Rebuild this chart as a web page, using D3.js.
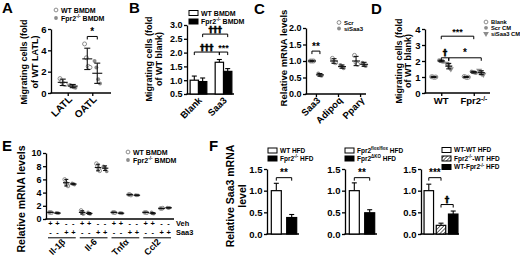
<!DOCTYPE html>
<html><head><meta charset="utf-8">
<script src="https://cdn.jsdelivr.net/npm/d3@7"></script>
<style>
body{margin:0;background:#fff;}
svg{display:block;}
</style></head><body>
<svg id="c" width="520" height="257"></svg>
<script>
// ================= DATA =================
// Panel A
const aCategories = ["LATL", "OATL"];
const aSeries = ["WT  BMDM", "Fpr2^{-/-} BMDM"];
const aWtPoints = [[1.35, 1.05, 0.85, 0.8], [4.6, 3.3, 2.5, 2.4]];
const aKoPoints = [[0.75, 0.65, 0.55, 0.5], [3.0, 2.4, 1.3, 0.9]];
const aWtMean = [1.0, 3.2], aWtErr = [0.3, 1.0];
const aKoMean = [0.65, 1.85], aKoErr = [0.15, 0.95];
const aTicks = [0, 2, 4, 6];
const aSig = ["*"];
// Panel B
const bCategories = ["Blank", "Saa3"];
const bSeries = ["WT  BMDM", "Fpr2^{-/-} BMDM"];
const bWtMean = [1.0, 1.65], bWtErr = [0.15, 0.1];
const bKoMean = [0.95, 1.32], bKoErr = [0.13, 0.1];
const bTicks = [0.5, 1.0, 1.5, 2.0, 2.5, 3.0];
const bSig = ["†††", "†††", "***"];
// Panel C
const cCategories = ["Saa3", "Adipoq", "Pparγ"];
const cSeries = ["Scr", "siSaa3"];
const cScrPoints = [[1.0, 1.0, 1.0], [1.08, 0.97, 0.95], [1.17, 0.95, 0.9]];
const cSiPoints = [[0.62, 0.57, 0.55], [0.88, 0.83, 0.78], [0.95, 0.87, 0.85]];
const cScrMean = [1.0, 1.0, 1.0], cScrErr = [0.02, 0.07, 0.14];
const cSiMean = [0.58, 0.83, 0.9], cSiErr = [0.04, 0.05, 0.06];
const cTicks = [0, 0.5, 1.0, 1.5, 2.0];
const cSig = ["**"];
// Panel D
const dCategories = ["WT", "Fpr2^{-/-}"];
const dSeries = ["Blank", "Scr CM", "siSaa3 CM"];
const dBlankPoints = [[1.02, 1.0, 0.98, 1.0], [1.03, 1.0, 0.97, 0.99]];
const dScrPoints = [[2.05, 2.0, 1.97, 1.95], [1.35, 1.3, 1.28, 1.25]];
const dSiPoints = [[1.85, 1.75, 1.6, 1.5], [1.4, 1.3, 1.2, 1.15]];
const dBlankMean = [1.0, 1.0], dBlankErr = [0.03, 0.03];
const dScrMean = [2.0, 1.3], dScrErr = [0.05, 0.05];
const dSiMean = [1.68, 1.27], dSiErr = [0.17, 0.12];
const dTicks = [0, 1, 2, 3, 4];
const dSig = ["***", "†", "*"];
// Panel E
const eGenes = ["Il-1β", "Il-6", "Tnfα", "Ccl2"];
const eSeries = ["WT  BMDM", "Fpr2^{-/-} BMDM"];
const eRowLabels = ["Veh", "Saa3"];
const eVehRow = ["+", "+", "-", "-"];
const eSaaRow = ["-", "-", "+", "+"];
const eWtVehPoints = [[1.0, 1.0, 0.95], [1.3, 1.0, 0.8], [1.0, 1.0, 0.95], [1.0, 1.0, 0.95]];
const eKoVehPoints = [[0.95, 0.9, 0.88], [1.0, 0.8, 0.75], [0.92, 0.9, 0.85], [1.0, 0.85, 0.8]];
const eWtSaaPoints = [[6.0, 5.5, 5.2, 5.0], [8.4, 8.0, 7.6, 7.3], [3.72, 3.7, 3.62], [1.6, 1.58, 1.65]];
const eKoSaaPoints = [[5.4, 5.3, 5.2], [8.0, 7.8, 7.6, 7.2], [3.62, 3.55, 3.6], [1.72, 1.65, 1.7]];
const eWtVehMean = [1.0, 1.0, 1.0, 1.0], eWtVehErr = [0.04, 0.25, 0.04, 0.04];
const eKoVehMean = [0.9, 0.85, 0.88, 0.88], eKoVehErr = [0.04, 0.13, 0.04, 0.1];
const eWtSaaMean = [5.5, 7.8, 3.68, 1.6], eWtSaaErr = [0.5, 0.5, 0.05, 0.04];
const eKoSaaMean = [5.3, 7.7, 3.6, 1.7], eKoSaaErr = [0.1, 0.35, 0.04, 0.04];
const eTicks = [0, 2, 4, 6, 8, 10];
// Panel F
const f1Groups = ["WT HFD", "Fpr2^{-/-} HFD"];
const f1Mean = [1.0, 0.38], f1Err = [0.17, 0.07];
const f2Groups = ["Fpr2^{flox/flox} HFD", "Fpr2^{ΔKO} HFD"];
const f2Mean = [1.0, 0.49], f2Err = [0.18, 0.07];
const f3Groups = ["WT-WT HFD", "Fpr2^{-/-}-WT HFD", "WT-Fpr2^{-/-} HFD"];
const f3Mean = [1.0, 0.2, 0.46], f3Err = [0.15, 0.05, 0.07];
const fTicks = [0, 0.5, 1.0, 1.5];
const fSig = ["**", "**", "***", "†"];

// ================= HELPERS =================
const FONT = '"Liberation Sans", Arial, Helvetica, sans-serif';
const DAGFONT = '"DejaVu Sans", "Liberation Sans", sans-serif';
const GREY = "#8c8c8c";
const svg = d3.select("#c").attr("font-family", FONT).attr("font-weight", "bold");

const pat = svg.append("defs").append("pattern").attr("id", "hatch")
  .attr("patternUnits", "userSpaceOnUse").attr("width", 2.6).attr("height", 2.6)
  .attr("patternTransform", "rotate(45)");
pat.append("rect").attr("width", 2.6).attr("height", 2.6).attr("fill", "#fff");
pat.append("line").attr("x1", 0).attr("y1", 0).attr("x2", 0).attr("y2", 2.6)
  .attr("stroke", "#000").attr("stroke-width", 1.2);

function rich(sel, str) {
  const parts = str.split(/(\^\{[^}]*\})/).filter(p => p);
  let shifted = false;
  parts.forEach(p => {
    const m = p.match(/^\^\{([^}]*)\}$/);
    if (m) { sel.append("tspan").attr("dy", shifted ? 0 : -2.8).attr("font-size", "0.68em").text(m[1]); shifted = true; }
    else { sel.append("tspan").attr("dy", shifted ? 2.8 : 0).text(p); shifted = false; }
  });
  return sel;
}
function txt(x, y, s, fs, anchor) {
  const t = svg.append("text").attr("x", x).attr("y", y).attr("font-size", fs)
    .attr("text-anchor", anchor || "start").attr("fill", "#000");
  if (s.indexOf("†") >= 0) t.attr("font-family", DAGFONT).attr("stroke", "#000").attr("stroke-width", 0.45);
  return rich(t, s);
}
function letter(s, x, y) { txt(x, y, s, 15); }
function yLabel(lines, xs, cy, fs) {
  lines.forEach((l, i) => {
    const t = svg.append("text").attr("transform", `translate(${xs[i]},${cy}) rotate(-90)`)
      .attr("text-anchor", "middle").attr("font-size", fs).attr("fill", "#000");
    rich(t, l);
  });
}
function styleAxis(g, fs) {
  g.attr("font-family", FONT).attr("font-size", fs).attr("font-weight", "bold");
  g.selectAll("path,line").attr("stroke", "#000").attr("stroke-width", 1.3);
  g.selectAll("text").attr("fill", "#000");
}
function yAxis(scale, x, ticks, fmt, fs) {
  const g = svg.append("g").attr("transform", `translate(${x},0)`)
    .call(d3.axisLeft(scale).tickValues(ticks).tickFormat(fmt).tickSize(3).tickSizeOuter(0).tickPadding(1.5));
  styleAxis(g, fs || 9);
}
function xAxis(x0, x1, y, pscale) {
  svg.append("line").attr("x1", x0 - 0.6).attr("x2", x1).attr("y1", y).attr("y2", y)
    .attr("stroke", "#000").attr("stroke-width", 1.3);
  if (pscale) {
    const g = svg.append("g").attr("transform", `translate(0,${y})`)
      .call(d3.axisBottom(pscale).tickSize(3).tickFormat(""));
    g.select(".domain").remove();
    styleAxis(g, 9);
  }
}
function rotLabels(xf, cats, y, fs, dx) {
  cats.forEach(c => {
    const t = svg.append("text")
      .attr("transform", `translate(${xf(c) + (dx || 4)},${y}) rotate(-45)`)
      .attr("text-anchor", "end").attr("font-size", fs).attr("fill", "#000");
    rich(t, c);
  });
}
function marker(x, y, kind, r) {
  r = r || 2;
  if (kind === "open") svg.append("circle").attr("cx", x).attr("cy", y).attr("r", r)
    .attr("fill", "#fff").attr("stroke", GREY).attr("stroke-width", 1);
  else if (kind === "filled") svg.append("circle").attr("cx", x).attr("cy", y).attr("r", r).attr("fill", GREY);
  else svg.append("path").attr("d", d3.symbol(d3.symbolTriangle, r * r * 4)())
    .attr("transform", `translate(${x},${y}) rotate(180)`).attr("fill", GREY);
}
function scatter(cx, y, pts, mean, err, kind, o) {
  o = o || {};
  const hw = o.hw || 5, cw = o.cw || 3, sp = o.spread || 1.8, r = o.r || 2;
  const n = pts.length;
  pts.forEach((v, i) => marker(cx + (i - (n - 1) / 2) * sp, y(v), kind, r));
  const g = svg.append("g").attr("stroke", "#111").attr("stroke-width", 1.1);
  g.append("line").attr("x1", cx - hw).attr("x2", cx + hw).attr("y1", y(mean)).attr("y2", y(mean));
  g.append("line").attr("x1", cx).attr("x2", cx).attr("y1", y(mean - err)).attr("y2", y(mean + err));
  [mean - err, mean + err].forEach(v =>
    g.append("line").attr("x1", cx - cw).attr("x2", cx + cw).attr("y1", y(v)).attr("y2", y(v)));
}
function bar(x, w, y, base, mean, err, fill) {
  const cx = x + w / 2;
  svg.append("line").attr("x1", cx).attr("x2", cx).attr("y1", y(mean)).attr("y2", y(mean + err))
    .attr("stroke", "#000").attr("stroke-width", 1.1);
  svg.append("line").attr("x1", cx - 2.5).attr("x2", cx + 2.5).attr("y1", y(mean + err)).attr("y2", y(mean + err))
    .attr("stroke", "#000").attr("stroke-width", 1.1);
  svg.append("rect").attr("x", x).attr("y", y(mean)).attr("width", w).attr("height", base - y(mean))
    .attr("fill", fill).attr("stroke", "#000").attr("stroke-width", 1.2);
}
function bracket(x1, x2, y, label, fs, lift) {
  svg.append("path").attr("d", `M${x1},${y + 3}V${y}H${x2}V${y + 3}`)
    .attr("fill", "none").attr("stroke", "#000").attr("stroke-width", 1);
  txt((x1 + x2) / 2, y - (lift || 1.5), label, fs || 9, "middle");
}
function legendMark(x, y, kind, s, fs) {
  marker(x, y, kind, 1.9);
  txt(x + 5, y + fs * 0.36, s, fs);
}
function legendBox(x, y, fill, s, fs) {
  svg.append("rect").attr("x", x).attr("y", y - 2.5).attr("width", 9).attr("height", 5)
    .attr("fill", fill).attr("stroke", "#000").attr("stroke-width", 1);
  txt(x + 12, y + fs * 0.36, s, fs);
}

// ================= PANEL A =================
letter("A", 2, 13);
const yA = d3.scaleLinear().domain([0, 6]).range([93, 29]);
yAxis(yA, 51, aTicks, d3.format("d"), 9.5);
const xA = d3.scalePoint().domain(aCategories).range([53, 107]).padding(0.6);
xAxis(51, 111, 93, xA);
rotLabels(xA, aCategories, 100, 10, 5);
aCategories.forEach((c, i) => {
  scatter(xA(c) - 5, yA, aWtPoints[i], aWtMean[i], aWtErr[i], "open");
  scatter(xA(c) + 5, yA, aKoPoints[i], aKoMean[i], aKoErr[i], "filled");
});
bracket(xA("OATL") - 5, xA("OATL") + 5, yA(5.3), aSig[0], 10, 0);
yLabel(["Migrating cells (fold", "of WT LATL)"], [27, 38], 62, 9);
legendMark(56, 10, "open", aSeries[0], 7);
legendMark(56, 18, "filled", aSeries[1], 7);

// ================= PANEL B =================
letter("B", 129, 13);
const yB = d3.scaleLinear().domain([0.5, 3.0]).range([94, 25]);
yAxis(yB, 187, bTicks, d3.format(".1f"), 9);
const xB = d3.scaleBand().domain(bCategories).range([187, 235]).paddingInner(0.333).paddingOuter(0.125);
const sB = d3.scaleBand().domain(bSeries).range([0, xB.bandwidth()]);
xAxis(187, 234, 94);
const bPos = d3.scalePoint().domain(bCategories).range([xB(bCategories[0]) + xB.bandwidth() / 2, xB(bCategories[1]) + xB.bandwidth() / 2]);
rotLabels(bPos, bCategories, 101, 9.5, 4);
bCategories.forEach((c, i) => {
  bar(xB(c) + sB(bSeries[0]), sB.bandwidth(), yB, yB(0.5), bWtMean[i], bWtErr[i], "#fff");
  bar(xB(c) + sB(bSeries[1]), sB.bandwidth(), yB, yB(0.5), bKoMean[i], bKoErr[i], "#000");
});
const bc = (c, s) => xB(c) + sB(s) + sB.bandwidth() / 2;
bracket(bc("Blank", bSeries[1]), bc("Saa3", bSeries[1]), yB(2.67), bSig[0], 9);
bracket(bc("Blank", bSeries[0]), bc("Saa3", bSeries[0]), yB(2.02), bSig[1], 9);
bracket(bc("Saa3", bSeries[0]), bc("Saa3", bSeries[1]), yB(2.02), bSig[2], 9);
yLabel(["Migrating cells (fold", "of WT blank)"], [152, 162], 59, 9);
legendBox(189, 13, "#fff", bSeries[0], 7);
legendBox(189, 21.5, "#000", bSeries[1], 7);

// ================= PANEL C =================
letter("C", 254, 14);
const yC = d3.scaleLinear().domain([0, 2]).range([94, 28]);
yAxis(yC, 306, cTicks, d3.format(".1f"), 9);
const xC = d3.scalePoint().domain(cCategories).range([306, 370]).padding(0.45);
xAxis(306, 366, 94, xC);
rotLabels(xC, cCategories, 101, 9.5, 5);
cCategories.forEach((c, i) => {
  scatter(xC(c) - 4, yC, cScrPoints[i], cScrMean[i], cScrErr[i], "open", { hw: 4, cw: 2.5, spread: 1.6 });
  scatter(xC(c) + 4, yC, cSiPoints[i], cSiMean[i], cSiErr[i], "filled", { hw: 4, cw: 2.5, spread: 1.6 });
});
bracket(xC("Saa3") - 4, xC("Saa3") + 4, yC(1.3), cSig[0], 10, 0);
yLabel(["Relative mRNA levels"], [287], 58, 9.5);
legendMark(339, 22.5, "open", cSeries[0], 6);
legendMark(339, 28.5, "filled", cSeries[1], 6);

// ================= PANEL D =================
letter("D", 371, 14);
const yD = d3.scaleLinear().domain([0, 4]).range([93, 29]);
yAxis(yD, 425, dTicks, d3.format("d"), 9.5);
const xD = d3.scalePoint().domain(dCategories).range([425, 490]).padding(0.5);
const sD = d3.scalePoint().domain(dSeries).range([-7.5, 7.5]);
xAxis(425, 490, 93, xD);
dCategories.forEach((c, i) => {
  txt(xD(c), 104, c, 9.5, "middle");
  scatter(xD(c) + sD(dSeries[0]), yD, dBlankPoints[i], dBlankMean[i], dBlankErr[i], "open", { hw: 3.5, cw: 2.5, spread: 1.4 });
  scatter(xD(c) + sD(dSeries[1]), yD, dScrPoints[i], dScrMean[i], dScrErr[i], "filled", { hw: 3.5, cw: 2.5, spread: 1.4 });
  scatter(xD(c) + sD(dSeries[2]), yD, dSiPoints[i], dSiMean[i], dSiErr[i], "tri", { hw: 3.5, cw: 2.5, spread: 1.4 });
});
const dc = (c, s) => xD(dCategories[c]) + sD(dSeries[s]);
bracket(dc(0, 1), dc(1, 1), yD(3.55), dSig[0], 9);
bracket(dc(0, 1), dc(0, 2), yD(2.2), dSig[1], 9);
bracket(dc(0, 2), dc(1, 2), yD(2.2), dSig[2], 10, 0);
yLabel(["Migrating cells (fold", "of WT blank)"], [402, 411], 61, 9);
legendMark(486, 22, "open", dSeries[0], 5.8);
legendMark(486, 27.8, "filled", dSeries[1], 5.8);
legendMark(486, 33.6, "tri", dSeries[2], 5.8);

// ================= PANEL E =================
letter("E", 2, 151);
const yE = d3.scaleLinear().domain([0, 10]).range([219, 153]);
yAxis(yE, 46, eTicks, d3.format("d"), 9);
const xE = d3.scaleBand().domain(eGenes).range([46, 173]);
const cE = d3.scalePoint().domain(eRowLabels).range([0, xE.bandwidth()]).padding(0.5);
xAxis(46, 174, 219);
const eo = { hw: 3.3, cw: 2, spread: 1.1, r: 1.8 };
eGenes.forEach((g, i) => {
  const vx = xE(g) + cE("Veh"), sx = xE(g) + cE("Saa3");
  scatter(vx - 3.5, yE, eWtVehPoints[i], eWtVehMean[i], eWtVehErr[i], "open", eo);
  scatter(vx + 3.5, yE, eKoVehPoints[i], eKoVehMean[i], eKoVehErr[i], "filled", eo);
  scatter(sx - 3.5, yE, eWtSaaPoints[i], eWtSaaMean[i], eWtSaaErr[i], "open", eo);
  scatter(sx + 3.5, yE, eKoSaaPoints[i], eKoSaaMean[i], eKoSaaErr[i], "filled", eo);
  const cols = [vx - 3.5, vx + 3.5, sx - 3.5, sx + 3.5];
  cols.forEach((x, j) => {
    txt(x, 225.8, eVehRow[j], 7.4, "middle");
    txt(x, 234.5, eSaaRow[j], 7.4, "middle");
  });
  svg.append("line").attr("x1", xE(g) + 2).attr("x2", xE(g) + xE.bandwidth() - 2)
    .attr("y1", 237.8).attr("y2", 237.8).attr("stroke", "#000").attr("stroke-width", 1);
});
const ePos = d3.scalePoint().domain(eGenes).range([xE(eGenes[0]) + xE.bandwidth() / 2, xE(eGenes[3]) + xE.bandwidth() / 2]);
rotLabels(ePos, eGenes, 242.5, 9, 4);
txt(176, 226, eRowLabels[0], 7.4);
txt(176, 234.5, eRowLabels[1], 7.4);
yLabel(["Relative mRNA levels"], [25], 199, 10.5);
legendMark(128, 152, "open", eSeries[0], 7);
legendMark(128, 160, "filled", eSeries[1], 7);

// ================= PANEL F =================
letter("F", 209, 151);
const yF = d3.scaleLinear().domain([0, 1.5]).range([234, 169]);
yLabel(["Relative Saa3 mRNA", "level"], [234, 246], 196, 10.5);
function fPanel(axisX, endX, groups, means, errs, fills, bw) {
  yAxis(yF, axisX, fTicks, d3.format(".1f"), 9.5);
  xAxis(axisX, endX, 234);
  const xs = d3.scaleBand().domain(groups).range([axisX + 2, endX]).paddingInner(0.35).paddingOuter(0.15);
  groups.forEach((g, i) => bar(xs(g) + (xs.bandwidth() - bw) / 2, bw, yF, yF(0), means[i], errs[i], fills[i]));
  return g => xs(g) + xs.bandwidth() / 2;
}
const f1 = fPanel(267, 299, f1Groups, f1Mean, f1Err, ["#fff", "#000"], 10);
bracket(f1(f1Groups[0]), f1(f1Groups[1]), yF(1.3), fSig[0], 10, 0);
legendBox(268, 150.5, "#fff", f1Groups[0], 6.5);
legendBox(268, 158.5, "#000", f1Groups[1], 6.5);

const f2 = fPanel(345, 377, f2Groups, f2Mean, f2Err, ["#fff", "#000"], 10);
bracket(f2(f2Groups[0]), f2(f2Groups[1]), yF(1.3), fSig[1], 10, 0);
legendBox(345, 150.5, "#fff", f2Groups[0], 6.5);
legendBox(345, 158.5, "#000", f2Groups[1], 6.5);

const f3 = fPanel(421, 459, f3Groups, f3Mean, f3Err, ["#fff", "url(#hatch)", "#000"], 9.5);
bracket(f3(f3Groups[0]), f3(f3Groups[1]), yF(1.3), fSig[2], 10, 0);
bracket(f3(f3Groups[1]), f3(f3Groups[2]), yF(0.68), fSig[3], 9);
legendBox(442, 150, "#fff", f3Groups[0], 6.5);
legendBox(442, 158.5, "url(#hatch)", f3Groups[1], 6.5);
legendBox(442, 167, "#000", f3Groups[2], 6.5);
</script>
</body></html>
